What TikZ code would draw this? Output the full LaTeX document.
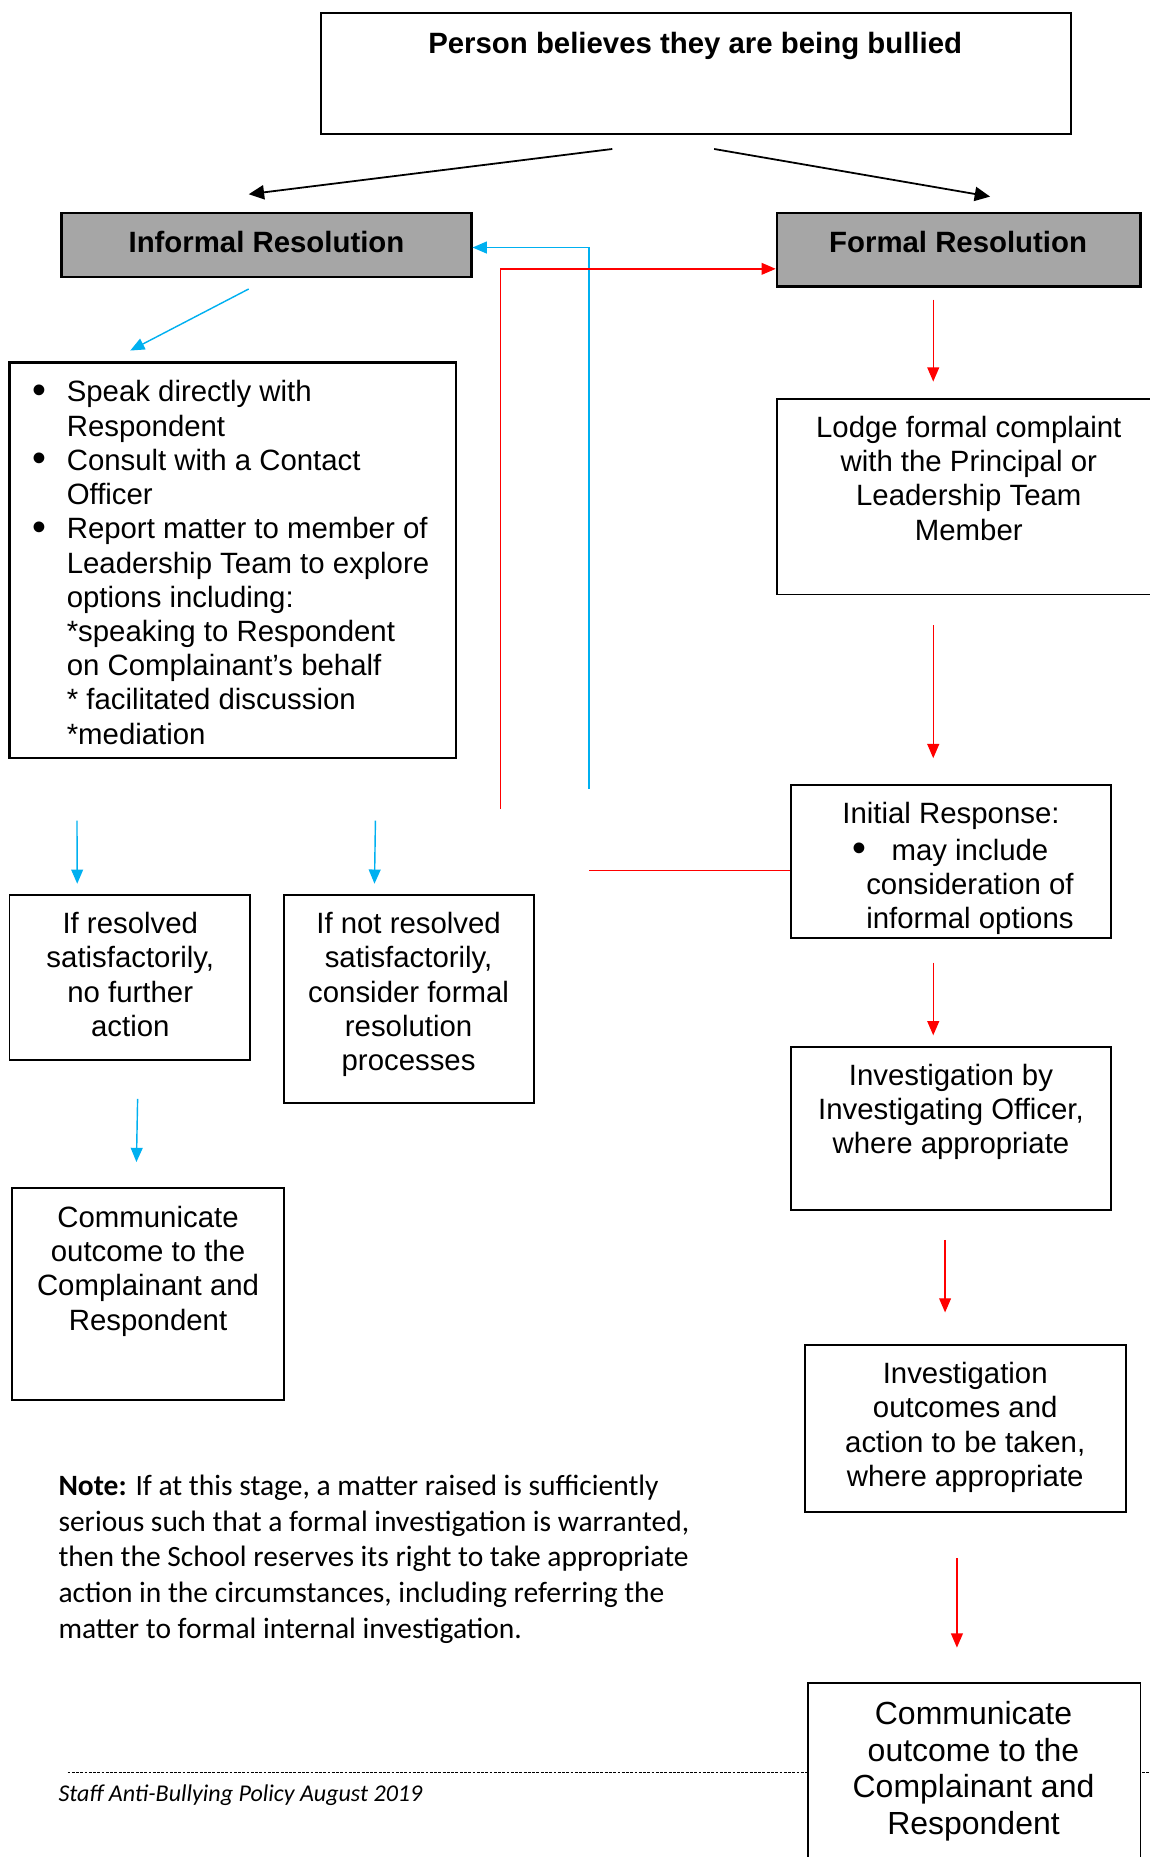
\documentclass[tikz,border=0pt]{standalone}
\usepackage{fontspec}
\setmainfont{Liberation Sans}
\newfontfamily\notefont{Carlito}
\usetikzlibrary{calc,arrows.meta,fit}
\definecolor{boxgray}{RGB}{166,166,166}
\definecolor{lineblue}{RGB}{0,176,240}
\definecolor{linered}{RGB}{255,0,0}
\newcommand{\bigbul}{\raisebox{-0.6pt}{\scalebox{1.35}{\textbullet}}}
\newcommand{\bul}{\makebox[14.5pt][l]{\bigbul}}
\newcommand{\ind}{\hspace*{14.5pt}}

\begin{document}
\begin{tikzpicture}[x=0.5pt,y=-0.5pt,
  box/.style={draw,line width=0.8pt,fill=white,inner sep=0pt},
  resbox/.style={box,fill=boxgray,line width=1pt},
  txt/.style={inner sep=0pt,anchor=north,align=center,font=\fontsize{12.4}{14.45}\selectfont},
  blackarr/.style={-{Triangle[length=6.5pt,width=6pt]},line width=0.75pt},
  bluearr/.style={-{Triangle[length=6pt,width=5pt]},lineblue,line width=0.6pt},
  redarr/.style={-{Triangle[length=6pt,width=5pt]},linered,line width=0.6pt}]
  \useasboundingbox (0,0) rectangle (971,1568);

  % boxes
  \node[box,fit={(271,11) (904,113)}] (top) {};
  \node[resbox,fit={(52,180) (398,234)}] (informal) {};
  \node[resbox,fit={(656,180) (963,242)}] (formal) {};
  \node[box,line width=1pt,fit={(8,306) (385,640)}] (bullets) {};
  \node[box,fit={(656,337) (990,502)}] (lodge) {};
  \node[box,fit={(668,663) (938,792)}] (initial) {};
  \node[box,fit={(8,756) (211,895)}] (resolved) {};
  \node[box,fit={(240,756) (451,931)}] (notres) {};
  \node[box,fit={(668,884) (938,1022)}] (invby) {};
  \node[box,fit={(10,1003) (240,1182)}] (commL) {};
  \node[box,fit={(680,1136) (951,1277)}] (outcomes) {};

  % texts
  \node[txt,font=\fontsize{12.4}{14.45}\selectfont\bfseries] (toptxt) at (587,27) {Person believes they are being bullied};
  \node[txt,font=\fontsize{12.4}{14.45}\selectfont\bfseries] (inftxt) at (225,195) {Informal Resolution};
  \node[txt,font=\fontsize{12.4}{14.45}\selectfont\bfseries] (formtxt) at (809,195) {Formal Resolution};
  \node[txt,anchor=north west,align=left] (bultxt) at (27,321) {\bul Speak directly with\\ \ind Respondent\\
    \bul Consult with a Contact\\ \ind Officer\\ \bul Report matter to member of\\ \ind Leadership Team to explore\\
    \ind options including:\\ \ind *speaking to Respondent\\ \ind on Complainant’s behalf\\
    \ind * facilitated discussion\\ \ind *mediation};
  \node[txt] (lodgetxt) at (818,351) {Lodge formal complaint\\ with the Principal or\\ Leadership Team\\ Member};
  \node[txt] (irhead) at (803,677) {Initial Response:};
  \node[txt] (iritem) at (819,708) {\llap{\bigbul\hspace{10.5pt}}may include\\ consideration of\\ informal options};
  \node[txt] (restxt) at (110,770) {If resolved\\ satisfactorily,\\ no further\\ action};
  \node[txt] (notrestxt) at (345,770) {If not resolved\\ satisfactorily,\\ consider formal\\ resolution\\ processes};
  \node[txt] (invbytxt) at (803,898) {Investigation by\\ Investigating Officer,\\ where appropriate};
  \node[txt] (commLtxt) at (125,1018) {Communicate\\ outcome to the\\ Complainant and\\ Respondent};
  \node[txt] (outtxt) at (815,1150) {Investigation\\ outcomes and\\ action to be taken,\\ where appropriate};
  \node[anchor=north west,inner sep=0pt,align=left,font=\notefont\fontsize{12.45}{15.1}\selectfont] (note) at (49,1245)
    {\textbf{Note:} If at this stage, a matter raised is sufficiently\\ serious such that a formal investigation is warranted,\\
     then the School reserves its right to take appropriate\\ action in the circumstances, including referring the\\
     matter to formal internal investigation.};
  \node[anchor=north west,inner sep=0pt,font=\notefont\itshape\fontsize{10.15}{12}\selectfont] (footer) at (49,1507)
    {Staff Anti-Bullying Policy August 2019};

  % footer rule, under the last box
  \draw[dash pattern=on 1.2pt off 0.6pt,line width=0.45pt] ($(footer.north west)+(8,-10)$) -- ++(940,0);
  \node[box,fit={(682,1421) (963,1590)}] (commR) {};
  \node[txt,font=\fontsize{13.5}{15.5}\selectfont] (commRtxt) at (822,1436) {Communicate\\ outcome to the\\ Complainant and\\ Respondent};

  % connectors
  \draw[blackarr] ($(top.south)+(-70.5,12)$) -- ($(informal.north)+(-15,-15)$);
  \draw[blackarr] ($(top.south)+(15.5,12)$) -- ($(formal.north)+(26.5,-13)$);
  \draw[bluearr] ($(informal.south)+(-15,9)$) -- ($(bullets.north)+(-86.5,-9)$);
  \draw[redarr] ($(formal.south)+(-21.5,10)$) -- ($(lodge.north)+(-35,-14)$);
  \draw[redarr] ($(lodge.south)+(-35,25)$) -- ($(initial.north)+(-15,-22)$);
  \draw[redarr] ($(initial.south)+(-15,20)$) -- ($(invby.north)+(-15,-9)$);
  \draw[redarr] ($(invby.south)+(-5,24)$) -- ($(outcomes.north)+(-17.5,-27)$);
  \draw[redarr] ($(outcomes.south)+(-7.5,38)$) -- ($(commR.north)+(-14.5,-29)$);
  \draw[linered,line width=0.6pt] ($(initial.west)+(0,7.5)$) -- ++(-170,0) coordinate (irend);
  \draw[bluearr] ($(irend)+(0,-69)$) |- ($(informal.east)+(0,2)$);
  \draw[redarr] ($(notres.north east)+(-29,-72)$) |- ($(formal.west)+(0,16)$);
  \draw[bluearr] ($(bullets.south west)+(58,52)$) -- ($(resolved.north west)+(58,-9)$);
  \draw[bluearr] ($(bullets.south west)+(310,52)$) -- ($(notres.north west)+(77,-9)$);
  \draw[bluearr] ($(resolved.south west)+(109,32)$) -- ($(commL.north west)+(106,-21)$);
\end{tikzpicture}
\end{document}
